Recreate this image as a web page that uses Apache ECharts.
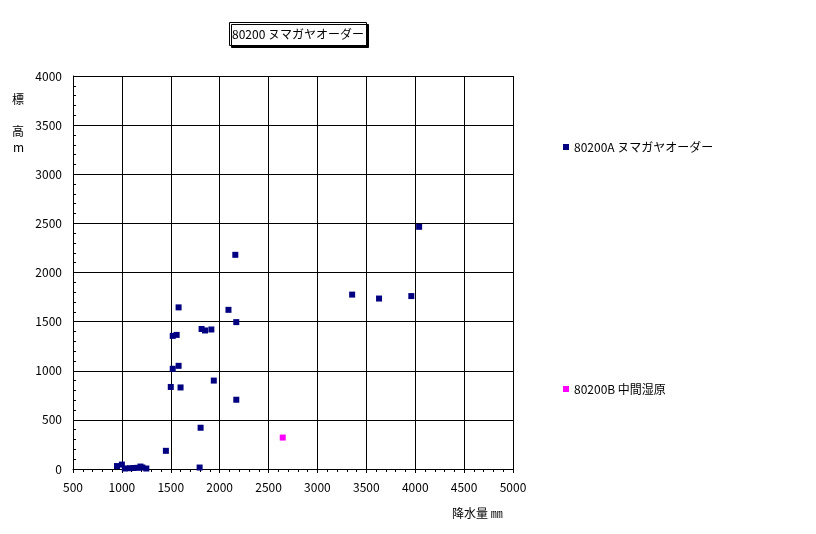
<!DOCTYPE html>
<html><head><meta charset="utf-8">
<script src="https://cdn.jsdelivr.net/npm/echarts@6/dist/echarts.min.js"></script>
<style>html,body{margin:0;padding:0;background:#fff}#c{width:816px;height:534px}</style>
</head><body><div id="c"></div>
<script>
const titleText = '80200 ヌマガヤオーダー';
const seriesNames = ['80200A ヌマガヤオーダー', '80200B 中間湿原'];
const seriesA = [
  [950, 30], [1000, 45], [1030, 5], [1080, 8], [1120, 10], [1160, 12], [1190, 25], [1210, 15], [1250, 5],
  [1450, 185], [1795, 15], [1805, 420],
  [1500, 835], [1600, 830], [1520, 1020], [1580, 1050], [1940, 900], [2170, 705],
  [1520, 1355], [1560, 1365], [1815, 1425], [1850, 1410], [1915, 1420],
  [1580, 1645], [2090, 1620], [2170, 1495], [2160, 2180],
  [3355, 1775], [3630, 1735], [3960, 1760], [4040, 2465]
];
const seriesB = [[2645, 320]];
const xTicks = {min: 500, max: 5000, interval: 500};
const yTicks = {min: 0, max: 4000, interval: 500};
const xName = '降水量 ㎜';
const yNameChars = ['標', '高', 'm'];

const font = "'Noto Sans CJK JP', 'DejaVu Sans', sans-serif";
const chart = echarts.init(document.getElementById('c'), null, {renderer: 'canvas'});
chart.setOption({
  animation: false,
  backgroundColor: '#fff',
  title: {
    text: titleText, left: 229, top: 22,
    padding: [5, 3, 5, 3],
    borderColor: '#000', borderWidth: 1, backgroundColor: '#fff',
    shadowColor: '#000', shadowOffsetX: 2, shadowOffsetY: 2, shadowBlur: 0,
    textStyle: {fontFamily: font, fontSize: 12, fontWeight: 'normal', color: '#000', lineHeight: 14}
  },
  grid: {left: 73, right: 303, top: 76, bottom: 65, containLabel: false},
  xAxis: {
    type: 'value', min: xTicks.min, max: xTicks.max, interval: xTicks.interval,
    axisLine: {show: true, lineStyle: {color: '#000', width: 1}},
    axisTick: {show: true, inside: false, length: 4, lineStyle: {color: '#000'}},
    minorTick: {show: true, splitNumber: 5, length: 3, lineStyle: {color: '#000'}},
    splitLine: {show: true, lineStyle: {color: '#000', width: 1}},
    axisLabel: {fontFamily: font, fontSize: 12, color: '#000', margin: 12, formatter: v => String(v)}
  },
  yAxis: {
    type: 'value', min: yTicks.min, max: yTicks.max, interval: yTicks.interval,
    axisLine: {show: true, lineStyle: {color: '#000', width: 1}},
    axisTick: {show: true, inside: true, length: 4, lineStyle: {color: '#000'}},
    minorTick: {show: true, splitNumber: 5, length: 3, lineStyle: {color: '#000'}},
    splitLine: {show: true, lineStyle: {color: '#000', width: 1}},
    axisLabel: {fontFamily: font, fontSize: 12, color: '#000', margin: 11, formatter: v => String(v)}
  },
  legend: [
    {data: [seriesNames[0]], left: 558, top: 136, icon: 'rect', itemWidth: 6, itemHeight: 6,
     textStyle: {fontFamily: font, fontSize: 12, color: '#000'}},
    {data: [seriesNames[1]], left: 558, top: 378, icon: 'rect', itemWidth: 6, itemHeight: 6,
     textStyle: {fontFamily: font, fontSize: 12, color: '#000'}}
  ],
  series: [
    {name: seriesNames[0], type: 'scatter', symbol: 'rect', symbolSize: 6, data: seriesA,
     itemStyle: {color: '#000080', opacity: 1}},
    {name: seriesNames[1], type: 'scatter', symbol: 'rect', symbolSize: 6, data: seriesB,
     itemStyle: {color: '#FF00FF', opacity: 1}}
  ],
  graphic: [
    {type: 'text', left: 12, top: 93, style: {text: yNameChars[0], font: '12px ' + font, fill: '#000'}},
    {type: 'text', left: 12, top: 125, style: {text: yNameChars[1], font: '12px ' + font, fill: '#000'}},
    {type: 'text', left: 13, top: 141, style: {text: yNameChars[2], font: '12px ' + font, fill: '#000'}},
    {type: 'text', left: 452, top: 507, style: {text: xName, font: '12px ' + font, fill: '#000'}}
  ]
});
</script></body></html>
